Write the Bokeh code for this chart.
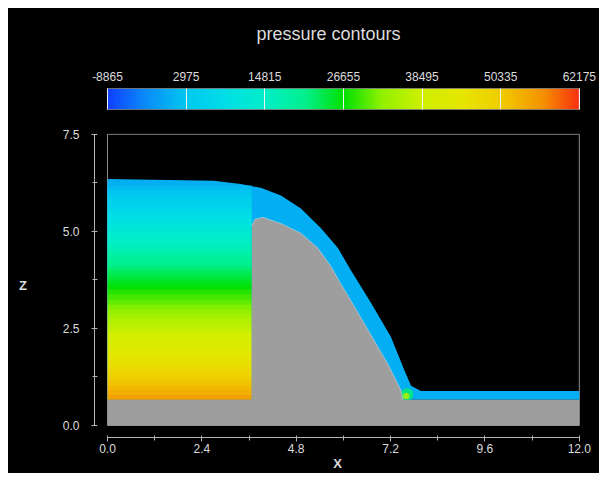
import numpy as np
from bokeh.plotting import figure
from bokeh.models import Range1d, FixedTicker, LinearColorMapper, ColumnDataSource
from bokeh.layouts import column
from bokeh.transform import linear_cmap
from bokeh.embed import file_html
from bokeh.resources import INLINE

# ---------------- data ----------------
title_text = "pressure contours"
cb_ticks = [-8865, 2975, 14815, 26655, 38495, 50335, 62175]
cb_tick_labels = ["-8865", "2975", "14815", "26655", "38495", "50335", "62175"]

x_ticks = [0.0, 2.4, 4.8, 7.2, 9.6, 12.0]
x_tick_labels = ["0.0", "2.4", "4.8", "7.2", "9.6", "12.0"]
x_minor = [1.2, 3.6, 6.0, 8.4, 10.8]
z_ticks = [0.0, 2.5, 5.0, 7.5]
z_tick_labels = ["0.0", "2.5", "5.0", "7.5"]
z_minor = [1.25, 3.75, 6.25]

domain_x = [0.0, 12.0]
domain_z = [0.0, 7.5]
bed_z = 0.66

# free surface of the water
surf_x = [0.0, 2.70, 3.39, 3.90, 4.41, 4.92, 5.43, 5.86, 6.19, 6.70, 7.21, 7.54, 7.72, 7.97, 8.48, 12.0]
surf_z = [6.35, 6.30, 6.22, 6.12, 5.92, 5.59, 5.08, 4.57, 4.00, 3.16, 2.28, 1.45, 1.02, 0.89, 0.89, 0.89]

# weir (solid) profile
weir_x = [3.67, 3.67, 3.75, 3.95, 4.41, 4.92, 5.35, 5.68, 5.94, 6.27, 6.70, 7.13, 7.46, 7.52]
weir_z = [0.66, 5.15, 5.31, 5.36, 5.20, 4.95, 4.57, 4.10, 3.64, 3.08, 2.33, 1.58, 0.92, 0.66]

res_x = [0.0, 3.67]
res_z = [0.66, 6.18]
res_p = [54700, 53500, 52300, 51100, 49800, 48600, 47400, 46200, 45000, 43800, 42600,
         41400, 40200, 38900, 37700, 36500, 35300, 34100, 32900, 31700, 30500, 29300,
         28100, 26900, 25600, 24400, 23200, 22000, 20800, 19600, 18400, 17200, 16000,
         14800, 13500, 12300, 11100, 9900, 8700, 7500, 6300, 5100, 3900, 2700, 1600]

sheet_p = 400           # pressure in the thin overflow sheet

toe_x = [7.62, 7.60]
toe_z = [0.80, 0.76]
toe_r = [0.16, 0.08]
toe_p = [22000, 36000]

# ---------------- style ----------------
FONT = "Liberation Sans"
TXT = "#dcdcdc"
AX = "#b4b4b4"
GROUND = "#9e9e9e"

anchors = [(0.0, "#1040ff"), (0.08, "#0a8cf8"), (0.167, "#00c8f0"), (0.25, "#00dfe6"),
           (0.333, "#00eec8"), (0.42, "#00f08c"), (0.5, "#00e000"), (0.58, "#90f000"),
           (0.667, "#d0f000"), (0.75, "#e6e600"), (0.833, "#f0cc00"), (0.92, "#f59400"),
           (1.0, "#f83010")]


def hex2rgb(h):
    return np.array([int(h[i:i + 2], 16) for i in (1, 3, 5)], dtype=float)


pos = np.array([a[0] for a in anchors])
cols = np.array([hex2rgb(a[1]) for a in anchors])
tt = np.linspace(0, 1, 256)
palette = []
for t in tt:
    rgb = [np.interp(t, pos, cols[:, k]) for k in range(3)]
    palette.append("#%02x%02x%02x" % tuple(int(round(c)) for c in rgb))

low, high = cb_ticks[0], cb_ticks[-1]
mapper = LinearColorMapper(palette=palette, low=low, high=high)

# shared horizontal layout (frames of all figures are aligned by the column)
XR = (-0.33, 12.03)
BL, BR = 86, 19


def to_cb(x):
    return low + (x - domain_x[0]) / (domain_x[1] - domain_x[0]) * (high - low)


def dark(fig):
    fig.background_fill_color = "black"
    fig.border_fill_color = "black"
    fig.outline_line_color = None
    fig.grid.visible = False


# ---------------- title strip ----------------
tf = figure(width=591, height=40, x_range=Range1d(*XR), y_range=Range1d(0, 1),
            output_backend="svg", toolbar_location=None,
            min_border_left=BL, min_border_right=BR, min_border_top=36, min_border_bottom=0)
dark(tf)
tf.axis.visible = False
tf.title.text = title_text
tf.title.align = "left"
tf.title.offset = 162
tf.title.text_font = FONT
tf.title.text_font_size = "18px"
tf.title.text_font_style = "normal"
tf.title.text_color = TXT
tf.title.standoff = 2

# ---------------- colour bar ----------------
cb = figure(width=591, height=70, x_range=Range1d(to_cb(XR[0]), to_cb(XR[1])), y_range=Range1d(0, 1),
            x_axis_location="above", output_backend="svg", toolbar_location=None,
            min_border_left=BL, min_border_right=BR, min_border_top=40, min_border_bottom=9)
dark(cb)
cb.yaxis.visible = False
cb.image(image=[np.linspace(low, high, 512)[None, :]], x=low, y=0, dw=high - low, dh=1,
         color_mapper=mapper)
cb.quad(left=[low], right=[high], bottom=[0], top=[1], fill_color=None,
        line_color="#d0d0d0", line_width=1)
ax = cb.xaxis[0]
ax.ticker = FixedTicker(ticks=cb_ticks, minor_ticks=[])
ax.major_label_overrides = {t: l for t, l in zip(cb_ticks, cb_tick_labels)}
ax.bounds = (low, high)
ax.major_tick_in = 21
ax.major_tick_out = 0
ax.major_tick_line_color = "#f0f0f0"
ax.axis_line_color = None
ax.major_label_standoff = 8
ax.major_label_text_font = FONT
ax.major_label_text_font_size = "12px"
ax.major_label_text_color = TXT

# ---------------- main plot ----------------
p = figure(width=591, height=355, x_range=Range1d(*XR), y_range=Range1d(-0.31, 7.52),
           output_backend="svg", toolbar_location=None,
           min_border_left=BL, min_border_right=BR, min_border_top=15, min_border_bottom=34)
dark(p)

# domain frame
p.quad(left=[domain_x[0]], right=[domain_x[1]], bottom=[domain_z[0]], top=[domain_z[1]],
       fill_color=None, line_color="#8c8c8c", line_width=1)

# whole water body (overflow sheet pressure)
water_xs = surf_x + [surf_x[-1], surf_x[0]]
water_zs = surf_z + [bed_z, bed_z]
p.patches(xs="xs", ys="ys", source=ColumnDataSource(dict(xs=[water_xs], ys=[water_zs], p=[sheet_p])),
          fill_color=linear_cmap("p", palette, low, high), line_color=None)

# reservoir pressure field (one column, rows bottom->top)
p.image(image=[np.array(res_p, dtype=float)[:, None]], x=res_x[0], y=res_z[0],
        dw=res_x[1] - res_x[0], dh=res_z[1] - res_z[0], color_mapper=mapper)

# stagnation spot at the toe
p.circle(x="x", y="y", radius="r", source=ColumnDataSource(dict(x=toe_x, y=toe_z, r=toe_r, p=toe_p)),
         fill_color=linear_cmap("p", palette, low, high), line_color=None, fill_alpha=0.85)

# ground + weir
ground_xs = [domain_x[0], domain_x[1], domain_x[1]] + weir_x[::-1] + [domain_x[0]]
ground_zs = [domain_z[0], domain_z[0], bed_z] + weir_z[::-1] + [bed_z]
p.patch(ground_xs, ground_zs, fill_color=GROUND, line_color=None)
p.line(weir_x[1:], weir_z[1:], line_color="#e8e8e8", line_alpha=0.45, line_width=1)

# axes
xa = p.xaxis[0]
xa.ticker = FixedTicker(ticks=x_ticks, minor_ticks=x_minor)
xa.major_label_overrides = {t: l for t, l in zip(x_ticks, x_tick_labels)}
xa.bounds = (domain_x[0], domain_x[1])
xa.axis_label = "X"
ya = p.yaxis[0]
ya.ticker = FixedTicker(ticks=z_ticks, minor_ticks=z_minor)
ya.major_label_overrides = {t: l for t, l in zip(z_ticks, z_tick_labels)}
ya.bounds = (domain_z[0], domain_z[1])
ya.axis_label = "Z"
ya.axis_label_orientation = "horizontal"

for a in (xa, ya):
    a.axis_line_color = AX
    a.major_tick_line_color = AX
    a.minor_tick_line_color = AX
    a.major_label_text_font = FONT
    a.major_label_text_font_size = "12px"
    a.major_label_text_color = TXT
    a.axis_label_text_font = FONT
    a.axis_label_text_font_size = "13px"
    a.axis_label_text_font_style = "bold"
    a.axis_label_text_color = TXT

xa.major_tick_in = 2
xa.major_tick_out = 4
xa.minor_tick_in = 2
xa.minor_tick_out = 3
xa.major_label_standoff = 2
xa.axis_label_standoff = 0

ya.major_tick_in = 3
ya.major_tick_out = 3
ya.minor_tick_in = 3
ya.minor_tick_out = 2
ya.major_label_standoff = 12
ya.axis_label_standoff = 33

layout = column(tf, cb, p, spacing=0, margin=(8, 0, 0, 8), styles={"background-color": "black"})
open("out.html", "w").write(file_html(layout, INLINE, title="pressure contours"))
